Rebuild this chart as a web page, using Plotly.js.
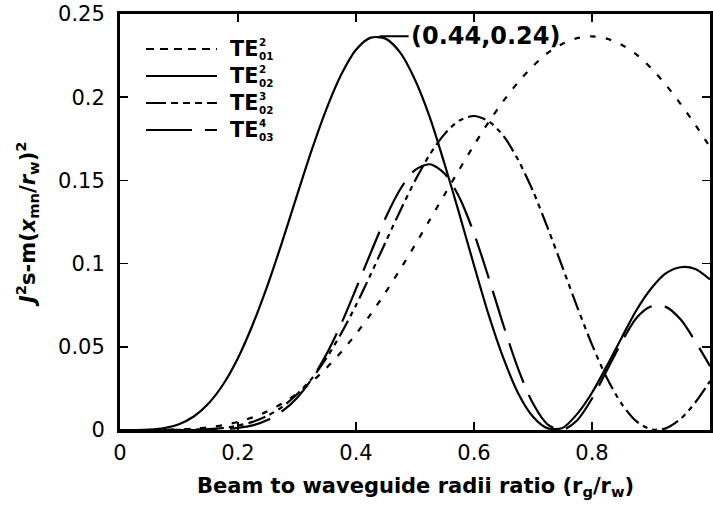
<!DOCTYPE html>
<html>
<head>
<meta charset="utf-8">
<script src="https://cdn.plot.ly/plotly-3.0.1.min.js"></script>
<style>html,body{margin:0;padding:0;background:#fff;}</style>
</head>
<body>
<div id="chart" style="width:713px;height:506px;"></div>
<script>
// Beam to waveguide radii ratio (shared x grid)
const ratio = [0, 0.025, 0.05, 0.075, 0.1, 0.125, 0.15, 0.175, 0.2, 0.225, 0.25, 0.275, 0.3, 0.325, 0.35, 0.375, 0.4, 0.425, 0.45, 0.475, 0.5, 0.525, 0.55, 0.575, 0.6, 0.625, 0.65, 0.675, 0.7, 0.725, 0.75, 0.775, 0.8, 0.825, 0.85, 0.875, 0.9, 0.925, 0.95, 0.975, 1];

// Series values
const te01_2 = [0, 0, 0, 0.0001, 0.0003, 0.0008, 0.0016, 0.0029, 0.0049, 0.0076, 0.0113, 0.0160, 0.0219, 0.0289, 0.0373, 0.0469, 0.0577, 0.0696, 0.0827, 0.0966, 0.1112, 0.1263, 0.1414, 0.1565, 0.1712, 0.1851, 0.1978, 0.2091, 0.2187, 0.2266, 0.2321, 0.2355, 0.2366, 0.2352, 0.2315, 0.2258, 0.2175, 0.2075, 0.1960, 0.1835, 0.1700];
const te02_2 = [0, 0, 0.0002, 0.0011, 0.0035, 0.0081, 0.0159, 0.0275, 0.0433, 0.0634, 0.0869, 0.1132, 0.1410, 0.1683, 0.1930, 0.2136, 0.2285, 0.2358, 0.2352, 0.2268, 0.2105, 0.1880, 0.1600, 0.1300, 0.0990, 0.0690, 0.0430, 0.0220, 0.0080, 0.0010, 0.0012, 0.0097, 0.0224, 0.0384, 0.0553, 0.0718, 0.0849, 0.0941, 0.0978, 0.0968, 0.0905];
const te02_3 = [0, 0, 0, 0, 0.0001, 0.0002, 0.0005, 0.0012, 0.0026, 0.0049, 0.0086, 0.0139, 0.0215, 0.0309, 0.0433, 0.0581, 0.0750, 0.0936, 0.1128, 0.1318, 0.1498, 0.1655, 0.1778, 0.1859, 0.1887, 0.1855, 0.1767, 0.1622, 0.1436, 0.1213, 0.0978, 0.0739, 0.0513, 0.0314, 0.0159, 0.0053, 0.0004, 0.0010, 0.0066, 0.0165, 0.0294];
const te03_4 = [0, 0, 0, 0, 0, 0, 0.0002, 0.0005, 0.0013, 0.0028, 0.0060, 0.0113, 0.0193, 0.0306, 0.0456, 0.0639, 0.0849, 0.1065, 0.1274, 0.1447, 0.1562, 0.1597, 0.1542, 0.1399, 0.1182, 0.0913, 0.0628, 0.0366, 0.0159, 0.0033, 0.0001, 0.0059, 0.0189, 0.0357, 0.0527, 0.0672, 0.0742, 0.0740, 0.0665, 0.0533, 0.0384];

const seriesNames = ['TE01^2', 'TE02^2', 'TE02^3', 'TE03^4'];
const legendMain = ['TE', 'TE', 'TE', 'TE'];
const legendSub = ['01', '02', '02', '03'];
const legendSup = ['2', '2', '3', '4'];

const xTickVals = [0, 0.2, 0.4, 0.6, 0.8, 1];
const xTickText = ['0', '0.2', '0.4', '0.6', '0.8', '1'];
const yTickVals = [0, 0.05, 0.1, 0.15, 0.2, 0.25];
const yTickText = ['0', '0.05', '0.1', '0.15', '0.2', '0.25'];

const peakX = 0.44, peakY = 0.2366, peakLabel = '(0.44,0.24)';

const FONT = 'DejaVu Sans, Verdana, sans-serif';
const dashes = ['6px,10px', 'solid', '18px,5px,5px,5px,5px,5px', '42px,13px'];
const legendDashes = ['8px,6px', 'solid', '20px,5px,7px,5px,7px,5px,7px,5px', '46px,13px'];
const allY = [te01_2, te02_2, te02_3, te03_4];

const traces = allY.map((ys, i) => ({
  x: ratio, y: ys, type: 'scatter', mode: 'lines', name: seriesNames[i],
  line: {color: '#000', width: 2.2, dash: dashes[i], shape: 'spline', smoothing: 0.8},
  showlegend: false, hoverinfo: 'skip'
}));

// custom legend (layout elements)
const legRowsPx = [49, 76, 103, 130];
const toPy = p => (430 - p) / 416;
const toPx = p => (p - 120) / 590;
const shapes = [];
const annotations = [];
legRowsPx.forEach((py, i) => {
  const yy = toPy(py);
  shapes.push({type: 'line', xref: 'paper', yref: 'paper', x0: toPx(146), x1: toPx(217), y0: yy, y1: yy,
    line: {color: '#000', width: 2.2, dash: legendDashes[i]}});
});
const legCenter = toPy((legRowsPx[0] + legRowsPx[3]) / 2);
// "TE" labels, one per row (line spacing 27px)
annotations.push({xref: 'paper', yref: 'paper', x: toPx(229), y: legCenter, xanchor: 'left', yanchor: 'middle',
  align: 'left', borderpad: 0, showarrow: false,
  text: legendMain.map(t => '<b>' + t + '</b>').join('<br>'),
  font: {family: FONT, size: 20.77, color: '#000'}});
// stacked superscript / subscript digits (line spacing 13.5px)
const supSubLines = [];
legendSup.forEach((s, i) => { supSubLines.push('<b>' + s + '</b>'); supSubLines.push('<b>' + legendSub[i] + '</b>'); });
annotations.push({xref: 'paper', yref: 'paper', x: toPx(258), y: legCenter, xanchor: 'left', yanchor: 'middle',
  align: 'left', borderpad: 0, showarrow: false,
  text: supSubLines.join('<br>'),
  font: {family: FONT, size: 10.4, color: '#000'}});

// peak label
annotations.push({x: peakX, y: peakY, xref: 'x', yref: 'y', text: '<b>' + peakLabel + '</b>',
  showarrow: true, arrowhead: 0, arrowwidth: 2, arrowcolor: '#000', ax: 29, ay: 0, xanchor: 'left', yanchor: 'middle',
  standoff: 0, font: {family: FONT, size: 24, color: '#000'}});

// axis titles
annotations.push({xref: 'paper', yref: 'paper', x: 0.5, y: toPy(487), xanchor: 'center', yanchor: 'middle',
  text: '<b>Beam to waveguide radii ratio (r<sub>g</sub>/r<sub>w</sub>)</b>', showarrow: false,
  font: {family: FONT, size: 21, color: '#000'}});
annotations.push({xref: 'paper', yref: 'paper', x: toPx(27), y: toPy(224), xanchor: 'center', yanchor: 'middle', textangle: -90,
  text: '<b><i>J</i><sup>2</sup>s-m(<i>x</i><sub>mn</sub>/<i>r</i><sub>w</sub>)<sup>2</sup></b>', showarrow: false,
  font: {family: FONT, size: 21, color: '#000'}});

const axisCommon = {
  showline: true, linewidth: 3, linecolor: '#000', mirror: 'ticks', ticks: 'inside', ticklen: 8, tickwidth: 1.5,
  tickcolor: '#000', showgrid: false, zeroline: false, fixedrange: true,
  tickfont: {family: FONT, size: 21, color: '#000'}
};

const layout = {
  width: 713, height: 506,
  margin: {l: 120, r: 3, t: 14, b: 76},
  paper_bgcolor: '#fff', plot_bgcolor: '#fff',
  showlegend: false,
  xaxis: Object.assign({}, axisCommon, {range: [0, 1], tickmode: 'array', tickvals: xTickVals, ticktext: xTickText, ticklabelstandoff: 2}),
  yaxis: Object.assign({}, axisCommon, {range: [0, 0.25], tickmode: 'array', tickvals: yTickVals, ticktext: yTickText, ticklabelstandoff: 8}),
  shapes: shapes,
  annotations: annotations
};

Plotly.newPlot('chart', traces, layout, {displayModeBar: false, staticPlot: true});
</script>
</body>
</html>
